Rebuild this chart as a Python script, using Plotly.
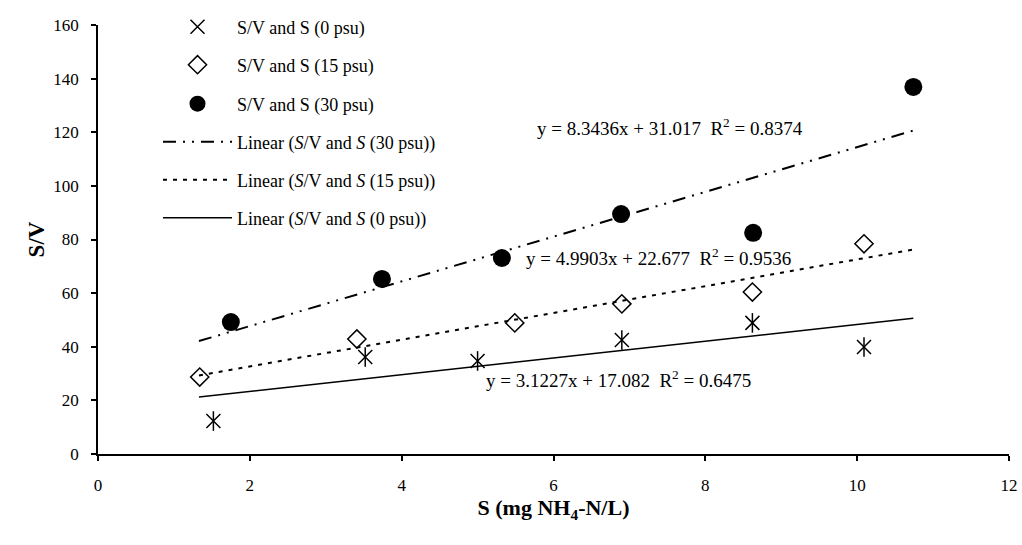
import plotly.graph_objects as go

# ---- data ----
s_0psu = [1.52, 3.52, 5.00, 6.90, 8.62, 10.09]
sv_0psu = [12.3, 36.2, 34.7, 42.5, 48.9, 39.9]
s_15psu = [1.34, 3.41, 5.49, 6.90, 8.62, 10.09]
sv_15psu = [28.7, 42.9, 48.9, 56.0, 60.4, 78.4]
s_30psu = [1.75, 3.74, 5.32, 6.89, 8.63, 10.74]
sv_30psu = [49.2, 65.3, 73.1, 89.5, 82.5, 136.9]

# trendline coefficients (as printed on chart) and their x-span
trend_span = [1.33, 10.74]
slopes = {"0": 3.1227, "15": 4.9903, "30": 8.3436}
intercepts = {"0": 17.082, "15": 22.677, "30": 31.017}
eq_labels = {
    "30": "y = 8.3436x + 31.017\u00a0\u00a0R<sup>2</sup> = 0.8374",
    "15": "y = 4.9903x + 22.677\u00a0\u00a0R<sup>2</sup> = 0.9536",
    "0": "y = 3.1227x + 17.082\u00a0\u00a0R<sup>2</sup> = 0.6475",
}
eq_pos = {"30": (5.75, 122), "15": (5.61, 73.5), "0": (5.09, 28)}

x_ticks = [0, 2, 4, 6, 8, 10, 12]
y_ticks = [0, 20, 40, 60, 80, 100, 120, 140, 160]

FONT = "Liberation Serif"
W, H = 1022, 545
L, R, T, B = 98, 13, 25, 91
PW, PH = W - L - R, H - T - B

fig = go.Figure()

def trend(key):
    return [slopes[key] * x + intercepts[key] for x in trend_span]

# markers
fig.add_trace(go.Scatter(x=s_0psu, y=sv_0psu, mode="markers", name="S/V and S (0 psu)",
                         marker=dict(symbol="x-thin-open", size=14, color="black",
                                     line=dict(color="black", width=1.5)),
                         legend="legend"))
fig.add_trace(go.Scatter(x=s_0psu, y=sv_0psu, mode="markers", showlegend=False,
                         marker=dict(symbol="line-ns-open", size=14, color="black",
                                     line=dict(color="black", width=1.5))))
fig.add_trace(go.Scatter(x=s_15psu, y=sv_15psu, mode="markers", name="S/V and S (15 psu)",
                         marker=dict(symbol="diamond-open", size=14, color="black",
                                     line=dict(color="black", width=1.5)),
                         legend="legend2"))
fig.add_trace(go.Scatter(x=s_30psu, y=sv_30psu, mode="markers", name="S/V and S (30 psu)",
                         marker=dict(symbol="circle", size=18, color="black"),
                         legend="legend3"))
# trendlines
fig.add_trace(go.Scatter(x=trend_span, y=trend("30"), mode="lines",
                         name="Linear (<i>S</i>/V and <i>S</i> (30 psu))",
                         line=dict(color="black", width=2, dash="13px,7px,2px,7px,2px,7px"),
                         legend="legend4"))
fig.add_trace(go.Scatter(x=trend_span, y=trend("15"), mode="lines",
                         name="Linear (<i>S</i>/V and <i>S</i> (15 psu))",
                         line=dict(color="black", width=2, dash="4px,6px"),
                         legend="legend5"))
fig.add_trace(go.Scatter(x=trend_span, y=trend("0"), mode="lines",
                         name="Linear (<i>S</i>/V and <i>S</i> (0 psu))",
                         line=dict(color="black", width=1.5),
                         legend="legend6"))

for k, lab in eq_labels.items():
    fig.add_annotation(x=eq_pos[k][0], y=eq_pos[k][1], text=lab, showarrow=False,
                       xanchor="left", yanchor="middle",
                       font=dict(family=FONT, size=19, color="black"))

legend_rows = [27, 65, 104, 142, 180, 218]
legend_common = dict(xref="paper", yref="paper", xanchor="left", yanchor="middle",
                     bgcolor="rgba(0,0,0,0)", itemwidth=69,
                     font=dict(family=FONT, size=18, color="black"))
names = ["legend", "legend2", "legend3", "legend4", "legend5", "legend6"]
leg_layout = {}
for nm, row in zip(names, legend_rows):
    leg_layout[nm] = dict(x=(158 - L) / PW, y=(H - B - row) / PH, **legend_common)

fig.update_layout(
    width=W, height=H,
    margin=dict(l=L, r=R, t=T, b=B, autoexpand=False),
    paper_bgcolor="white", plot_bgcolor="white",
    font=dict(family=FONT, size=17, color="black"),
    **leg_layout,
    xaxis=dict(range=[0, 12], tickvals=x_ticks, showgrid=False, zeroline=False,
               showline=True, linecolor="black", linewidth=1.5,
               ticks="outside", ticklen=5, tickwidth=1.5, tickcolor="black",
               ticklabelstandoff=10,
               tickfont=dict(family=FONT, size=17),
               title=dict(text="<b>S (mg NH<sub>4</sub>-N/L)</b>", standoff=0,
                          font=dict(family=FONT, size=22))),
    yaxis=dict(range=[0, 160], tickvals=y_ticks, showgrid=False, zeroline=False,
               showline=True, linecolor="black", linewidth=1.5,
               ticks="outside", ticklen=5, tickwidth=1.5, tickcolor="black",
               ticklabelstandoff=9,
               tickfont=dict(family=FONT, size=17),
               title=dict(text="<b>S/V</b>", standoff=2,
                          font=dict(family=FONT, size=23))),
)

fig.write_html("out.html")
